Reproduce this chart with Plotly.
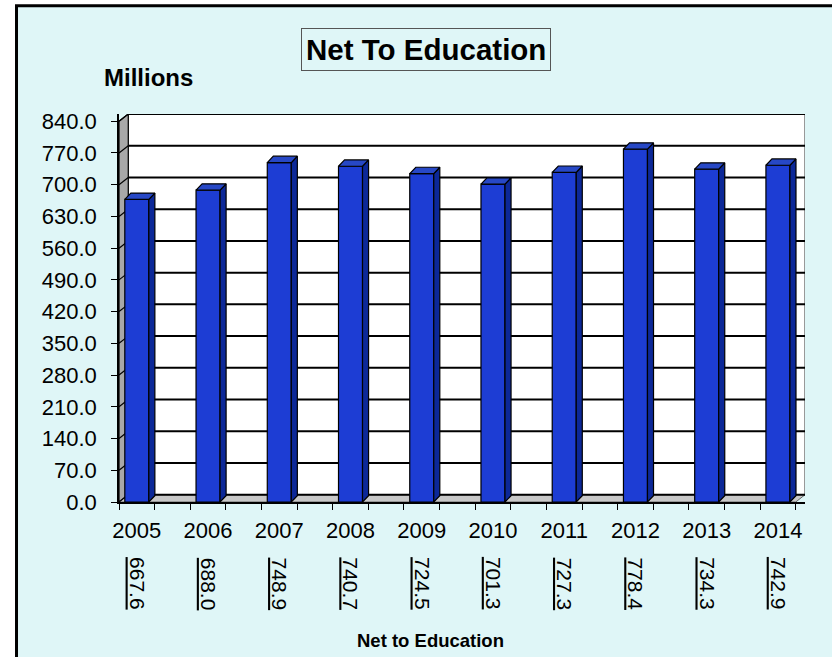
import plotly.graph_objects as go

# ---- data -------------------------------------------------------------
years = ["2005", "2006", "2007", "2008", "2009", "2010", "2011", "2012", "2013", "2014"]
net_to_education = [667.6, 688.0, 748.9, 740.7, 724.5, 701.3, 727.3, 778.4, 734.3, 742.9]
y_ticks = [0, 70, 140, 210, 280, 350, 420, 490, 560, 630, 700, 770, 840]

# ---- styling ----------------------------------------------------------
FONT = "Arial, 'Liberation Sans', sans-serif"
BG = "#dff6f7"
BAR_FRONT = "#1d3dd4"
BAR_SIDE = "#0c2898"
BAR_TOP = "#2748c6"
WALL_SIDE = "#a8a8a8"
FLOOR = "#c8c8c8"

n = len(years)
xs = list(range(n))
x_lo, x_hi = -0.25, n - 1 + 0.25          # front edge of the floor
DX, DY = 0.13, 16                          # depth offset of the back wall
y_top = y_ticks[-1] + DY
BW, BDX, BDY = 0.337, 0.085, 14            # bar width and bar depth offset

fig = go.Figure()

# front faces of the columns
fig.add_trace(go.Bar(
    x=xs, y=net_to_education, width=BW,
    marker=dict(color=BAR_FRONT, line=dict(color="black", width=1.2)),
    hoverinfo="skip",
))

# side and top faces give the columns their depth
side_x, side_y, top_x, top_y = [], [], [], []
for x, v in zip(xs, net_to_education):
    r = x + BW / 2
    l = x - BW / 2
    side_x += [r, r + BDX, r + BDX, r, r, None]
    side_y += [0, BDY, v + BDY, v, 0, None]
    top_x += [l, l + BDX, r + BDX, r, l, None]
    top_y += [v, v + BDY, v + BDY, v, v, None]

fig.add_trace(go.Scatter(x=side_x, y=side_y, mode="lines", fill="toself",
                         fillcolor=BAR_SIDE, line=dict(color="black", width=1.2),
                         hoverinfo="skip"))
fig.add_trace(go.Scatter(x=top_x, y=top_y, mode="lines", fill="toself",
                         fillcolor=BAR_TOP, line=dict(color="black", width=1.2),
                         hoverinfo="skip"))

# ---- walls, floor and gridlines ----------------------------------------
shapes = []
# outer chart frame
shapes.append(dict(type="rect", xref="paper", yref="paper",
                   x0=-0.1494, x1=1.08, y0=-0.45, y1=1.279,
                   fillcolor=BG, line=dict(color="black", width=3), layer="below"))
# back wall
shapes.append(dict(type="rect", xref="x", yref="y",
                   x0=x_lo + DX, x1=x_hi + DX, y0=DY, y1=y_top,
                   fillcolor="white", line=dict(color="#333333", width=1), layer="below"))
# left side wall
shapes.append(dict(type="path", xref="x", yref="y",
                   path=f"M {x_lo},0 L {x_lo + DX},{DY} L {x_lo + DX},{y_top} L {x_lo},{y_ticks[-1]} Z",
                   fillcolor=WALL_SIDE, line=dict(color="black", width=1.2), layer="below"))
# floor
shapes.append(dict(type="path", xref="x", yref="y",
                   path=f"M {x_lo},0 L {x_lo + DX},{DY} L {x_hi + DX},{DY} L {x_hi},0 Z",
                   fillcolor=FLOOR, line=dict(color="#666666", width=1), layer="below"))
for t in y_ticks:
    shapes.append(dict(type="line", xref="x", yref="y",
                       x0=x_lo + DX, x1=x_hi + DX, y0=t + DY, y1=t + DY,
                       line=dict(color="black", width=2), layer="below"))
    shapes.append(dict(type="line", xref="x", yref="y",
                       x0=x_lo, x1=x_lo + DX, y0=t, y1=t + DY,
                       line=dict(color="black", width=1.2), layer="below"))

# ---- text -------------------------------------------------------------
annotations = [
    dict(text="<b>Net To Education</b>", xref="paper", yref="paper",
         x=0.4475, y=1.165, xanchor="center", yanchor="middle", showarrow=False,
         font=dict(family=FONT, size=29.5, color="black"),
         bordercolor="#555555", borderwidth=1, borderpad=4, bgcolor=BG),
    dict(text="<b>Millions</b>", xref="paper", yref="paper",
         x=0.0437, y=1.093, xanchor="center", yanchor="middle", showarrow=False,
         font=dict(family=FONT, size=24, color="black")),
    dict(text="<b>Net to Education</b>", xref="paper", yref="paper",
         x=0.4534, y=-0.3557, xanchor="center", yanchor="middle", showarrow=False,
         font=dict(family=FONT, size=18.5, color="black")),
]
for x, v in zip(xs, net_to_education):
    annotations.append(dict(text=f"<u>{v:.1f}</u>", xref="x", yref="paper",
                            x=x, y=-0.211, xanchor="center", yanchor="middle",
                            showarrow=False, textangle=90,
                            font=dict(family=FONT, size=21, color="black")))

fig.update_layout(
    width=832, height=657,
    margin=dict(l=119, r=27, t=114, b=155),
    paper_bgcolor="white", plot_bgcolor=BG,
    showlegend=False, hovermode=False,
    shapes=shapes, annotations=annotations,
    font=dict(family=FONT, color="black"),
    xaxis=dict(range=[x_lo, x_hi + DX], tickmode="array", tickvals=xs, ticktext=years,
               ticks="", showgrid=False, zeroline=False,
               showline=True, linecolor="black", linewidth=1.5,
               tickfont=dict(size=22, family=FONT, color="black"),
               ticklabelstandoff=8,
               minor=dict(tickmode="array",
                          tickvals=[x + d for x in xs for d in (-0.25, 0.25)],
                          ticks="outside", ticklen=6, tickcolor="black", tickwidth=1.2,
                          showgrid=False),
               fixedrange=True),
    yaxis=dict(range=[0, y_top], tickmode="array", tickvals=y_ticks, tickformat=".1f",
               ticks="outside", ticklen=6, tickcolor="black", tickwidth=1.2,
               showgrid=False, zeroline=False,
               showline=True, linecolor="black", linewidth=1.5,
               tickfont=dict(size=22, family=FONT, color="black"),
               ticklabelstandoff=10, fixedrange=True),
)

fig.write_html("out.html", config={"displayModeBar": False})
